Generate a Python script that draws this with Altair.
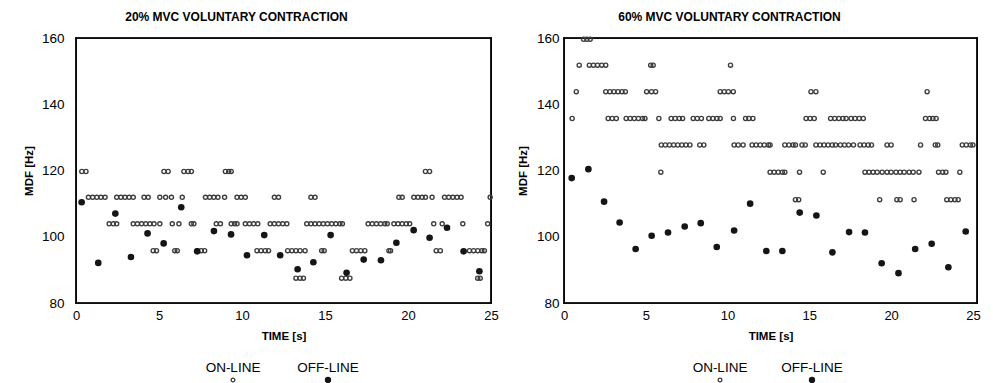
import altair as alt
import pandas as pd

# ---------------- data ----------------
x_ticks = [0, 5, 10, 15, 20, 25]
y_ticks = [80, 100, 120, 140, 160]
legend_labels = ["ON-LINE", "OFF-LINE"]
titles = ["20% MVC VOLUNTARY CONTRACTION", "60% MVC VOLUNTARY CONTRACTION"]

# 20% MVC: off-line estimates (filled)
L_off_t = [0.34, 1.34, 2.37, 3.31, 4.31, 5.28, 6.34, 7.30, 8.31, 9.34, 10.30, 11.34, 12.30,
           13.35, 14.30, 15.34, 16.30, 17.33, 18.37, 19.30, 20.34, 21.30, 22.35, 23.35, 24.30]
L_off_v = [110.4, 92.1, 107.0, 93.9, 101.0, 98.0, 108.9, 95.6, 101.7, 100.7, 94.4, 100.5, 94.4,
           90.2, 92.3, 100.5, 89.1, 93.1, 92.9, 98.2, 102.0, 99.7, 102.7, 95.6, 89.6]

# 20% MVC: on-line estimates (open), one list of times per quantised level
L_levels = [119.7, 111.9, 103.9, 95.8, 87.5]
L_on_120 = [0.35, 0.6, 5.3, 5.55, 6.5, 6.75, 6.95, 9.0, 9.2, 9.35, 21.05, 21.3]
L_on_112 = [0.75, 1.0, 1.25, 1.5, 1.75, 2.45, 2.7, 2.95, 3.2, 3.45, 4.1, 4.35, 5.05, 5.4, 5.75,
            6.4, 7.8, 8.05, 8.3, 8.55, 8.95, 9.7, 9.95, 10.2, 11.95, 12.2, 14.15, 14.4, 19.45,
            19.65, 20.35, 20.6, 20.85, 21.05, 21.45, 22.2, 22.45, 22.7, 22.95, 23.2, 24.95]
L_on_104 = [2.0, 2.25, 2.45, 3.45, 3.7, 3.95, 4.2, 4.45, 4.7, 5.05, 5.8, 6.2, 6.95, 7.1, 8.45,
            8.7, 9.35, 9.55, 9.7, 10.2, 10.45, 10.7, 10.95, 11.7, 11.95, 12.2, 12.45, 12.7, 13.9,
            14.15, 14.4, 14.65, 14.9, 15.15, 15.4, 15.65, 15.9, 16.05, 17.6, 17.85, 18.1, 18.35,
            18.6, 18.75, 19.15, 19.4, 19.65, 19.9, 20.1, 21.55, 22.06, 23.3, 24.8]
L_on_96 = [4.65, 4.85, 5.95, 6.1, 7.3, 7.55, 7.75, 10.9, 11.15, 11.4, 11.6, 12.75, 13.0, 13.25,
           13.5, 13.8, 14.8, 14.95, 16.65, 16.9, 17.15, 17.4, 18.85, 18.95, 21.7, 21.95, 23.7,
           23.95, 24.2, 24.45, 24.6]
L_on_88 = [13.25, 13.5, 13.7, 16.0, 16.25, 16.5, 24.2, 24.35]

# 60% MVC: off-line estimates (filled)
R_off_t = [0.47, 1.49, 2.45, 3.40, 4.38, 5.36, 6.36, 7.38, 8.36, 9.34, 10.40, 11.38, 12.37,
           13.35, 14.41, 15.43, 16.41, 17.43, 18.40, 19.42, 20.45, 21.47, 22.48, 23.50, 24.56]
R_off_v = [117.7, 120.4, 110.6, 104.3, 96.3, 100.3, 101.3, 103.1, 104.1, 96.9, 101.9, 110.0, 95.7,
           95.7, 107.3, 106.4, 95.3, 101.4, 101.3, 92.0, 89.0, 96.3, 97.9, 90.8, 101.6]

# 60% MVC: on-line estimates (open)
R_levels = [159.6, 151.8, 143.8, 135.7, 127.7, 119.5, 111.2]
R_on_160 = [1.2, 1.4, 1.6]
R_on_152 = [0.93, 1.55, 1.8, 2.05, 2.3, 2.55, 5.3, 5.45, 10.18]
R_on_144 = [0.75, 2.55, 2.8, 3.05, 3.3, 3.55, 3.75, 5.05, 5.35, 5.6, 9.55, 9.8, 10.05, 10.35,
            15.1, 15.4, 22.2]
R_on_136 = [0.5, 2.7, 2.95, 3.2, 3.8, 4.05, 4.3, 4.55, 4.8, 4.95, 5.8, 6.55, 6.8, 7.05, 7.25,
            7.9, 8.15, 8.4, 8.85, 9.1, 9.35, 9.55, 10.36, 11.1, 11.3, 11.55, 14.8, 15.05, 15.3,
            16.3, 16.55, 16.8, 17.05, 17.25, 17.55, 17.8, 18.05, 18.3, 22.1, 22.35, 22.55, 22.75]
R_on_128 = [5.95, 6.2, 6.45, 6.7, 6.95, 7.2, 7.45, 7.7, 8.3, 8.55, 10.4, 10.65, 10.95, 11.5,
            11.75, 12.0, 12.25, 12.5, 12.6, 13.5, 13.75, 14.0, 14.15, 14.55, 14.75, 15.4, 15.65,
            15.9, 16.15, 16.4, 16.6, 16.9, 17.15, 17.4, 17.7, 18.1, 18.35, 18.6, 18.8, 19.75,
            20.0, 21.8, 22.7, 22.85, 24.35, 24.6, 24.85, 25.0]
R_on_120 = [5.92, 12.6, 12.85, 13.1, 13.35, 13.5, 14.4, 15.85, 18.4, 18.65, 18.9, 19.15, 19.45,
            19.75, 20.0, 20.3, 20.55, 20.8, 21.1, 21.35, 21.7, 22.9, 23.15, 23.35, 24.2]
R_on_112 = [14.15, 14.35, 19.3, 20.35, 20.55, 21.4, 23.4, 23.65, 23.9, 24.1]


def on_table(levels, lists):
    rows = []
    for lev, ts in zip(levels, lists):
        rows += [{"t": t, "v": lev} for t in ts]
    return pd.DataFrame(rows)


L_on = on_table(L_levels, [L_on_120, L_on_112, L_on_104, L_on_96, L_on_88])
R_on = on_table(R_levels, [R_on_160, R_on_152, R_on_144, R_on_136, R_on_128, R_on_120, R_on_112])
L_off = pd.DataFrame({"t": L_off_t, "v": L_off_v})
R_off = pd.DataFrame({"t": R_off_t, "v": R_off_v})

H = 265
FONT = "Liberation Sans"
EDGE = 1.6  # frame line thickness in px


def panel(title, on_df, off_df, width, x_max, label_pad, title_pad, title_dx, leg_x):
    xs = alt.Scale(domain=[0, x_max], nice=False, zero=False)
    ys = alt.Scale(domain=[80, 160], nice=False, zero=False)
    xaxis = alt.Axis(values=x_ticks, title="TIME [s]", grid=False, domain=False, ticks=False,
                     labelFlush=False, labelPadding=6, labelFontSize=13, labelColor="black",
                     titleFontSize=11.5, titleFontWeight="bold", titleColor="black",
                     titlePadding=8, labelFont=FONT, titleFont=FONT)
    yaxis = alt.Axis(values=y_ticks, title="MDF [Hz]", grid=False, domain=False, ticks=False,
                     labelPadding=label_pad, labelFontSize=13.5, labelColor="black",
                     titleFontSize=11.5, titleFontWeight="bold", titleColor="black",
                     titlePadding=title_pad, labelFont=FONT, titleFont=FONT)
    on = alt.Chart(on_df).mark_point(shape="circle", filled=False, size=17, strokeWidth=1.35,
                                     color="#3c3c3c", opacity=1).encode(
        x=alt.X("t:Q", scale=xs, axis=xaxis),
        y=alt.Y("v:Q", scale=ys, axis=yaxis),
    )
    off = alt.Chart(off_df).mark_circle(size=44, color="#151515", opacity=1).encode(
        x=alt.X("t:Q", scale=xs),
        y=alt.Y("v:Q", scale=ys),
    )
    # plot frame drawn as four thin filled bars
    edge_d = pd.DataFrame({"e": [0]})
    h = EDGE / 2
    edges = []
    for (x1, x2, y1, y2) in [(-h, width + h, -h, h), (-h, width + h, H - h, H + h),
                             (-h, h, -h, H + h), (width - h, width + h, -h, H + h)]:
        edges.append(alt.Chart(edge_d).mark_rect(color="black", opacity=1).encode(
            x=alt.value(x1), x2=alt.value(x2), y=alt.value(y1), y2=alt.value(y2)))
    layers = edges + [on, off]
    for lab, xv, filled in [(legend_labels[0], leg_x[0], False), (legend_labels[1], leg_x[1], True)]:
        d = pd.DataFrame({"label": [lab]})
        layers.append(alt.Chart(d).mark_text(fontSize=13.5, font=FONT, color="black").encode(
            x=alt.value(xv), y=alt.value(H + 65), text="label:N"))
        if filled:
            sym = alt.Chart(d).mark_circle(size=40, color="#151515", opacity=1)
        else:
            sym = alt.Chart(d).mark_point(shape="circle", filled=False, size=14, strokeWidth=1.2,
                                          color="#333", opacity=1)
        layers.append(sym.encode(x=alt.value(xv), y=alt.value(H + 77)))
    return alt.layer(*layers).properties(
        width=width, height=H,
        title=alt.TitleParams(title, fontSize=12, fontWeight="bold", font=FONT, color="black",
                              anchor="middle", dx=title_dx, offset=7),
    )


left = panel(titles[0], L_on, L_off, 415, 25, 12, 7, -47, (157, 252))
right = panel(titles[1], R_on, R_off, 413, 25.25, 5, 8, -41, (156, 248))

chart = alt.hconcat(left, right, spacing=17).properties(
    padding={"left": 22, "top": 10, "right": 3, "bottom": 0},
    background="white",
).configure(font=FONT).configure_view(stroke="black", strokeWidth=1.3)

chart.save("out.html", embed_options={"renderer": "svg", "actions": False})
